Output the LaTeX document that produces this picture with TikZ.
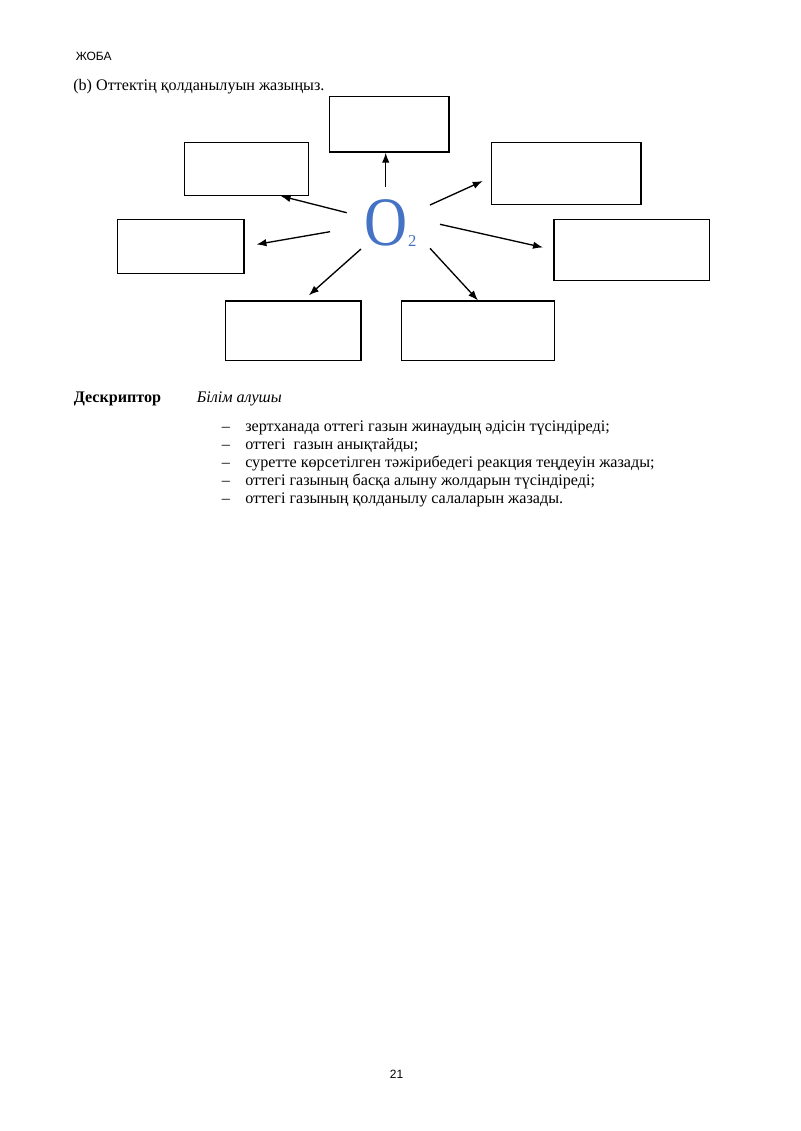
\documentclass[tikz,border=0pt]{standalone}
\usepackage{fontspec}
\setmainfont{Liberation Serif}
\newfontfamily\hdrfont{Liberation Sans}
\usepackage{graphicx}
\usepackage{xcolor}
\usepackage{tikz}
\usetikzlibrary{arrows.meta,calc}
\definecolor{oxblue}{RGB}{68,114,196}

\begin{document}
\begin{tikzpicture}[x=0.75pt,y=-0.75pt,>={Latex[length=7.5pt,width=5.6pt]},
	answerbox/.style={draw,line width=0.9pt,inner sep=0pt},
	arr/.style={->,line width=1pt},
	txt/.style={anchor=base west,inner sep=0pt,font=\fontsize{12.1}{14}\selectfont}]
	\useasboundingbox (0,0) rectangle (800,1131);

	\node[txt,font=\hdrfont\fontsize{9}{11}\selectfont] (hdr) at (75.5,61) {ЖОБА};
	\node[txt] (task) at (73,90) {(b) Оттектің қолданылуын жазыңыз.};

	% empty boxes round the formula
	\node[answerbox,minimum width=89.8pt,minimum height=41.5pt] (top) at (389.2,124.4) {};
	\node[answerbox,minimum width=93pt,minimum height=39.5pt] (ul) at (246.7,169) {};
	\node[answerbox,minimum width=112pt,minimum height=46.2pt] (ur) at (566.4,173.5) {};
	\node[answerbox,minimum width=94.7pt,minimum height=40.8pt] (l) at (180.9,246.5) {};
	\node[answerbox,minimum width=116.5pt,minimum height=45.8pt] (r) at (631.7,249.8) {};
	\node[answerbox,minimum width=101.5pt,minimum height=44.8pt] (bl) at (293.4,330.9) {};
	\node[answerbox,minimum width=114.5pt,minimum height=44.8pt] (br) at (478,330.9) {};

	% O2 in the middle
	\node[anchor=base west,inner sep=0pt,text=oxblue] (oxy) at (364.7,245) {\scalebox{0.86}[1]{\fontsize{52}{52}\selectfont O}\raisebox{-0.75pt}{\fontsize{12.5}{12.5}\selectfont 2}};

	\coordinate (sUp) at (385.7,186.7);
	\coordinate (sUl) at (346.7,212.7);
	\coordinate (sL) at (330,231.7);
	\coordinate (sBl) at (361,249);
	\coordinate (sUr) at (430,205);
	\coordinate (sR) at (440,224.3);
	\coordinate (sBr) at (430,248.3);

	\draw[arr] (sUp) -- (top.south -| sUp);
	\draw[arr] (sUl) -- ($(ul.south east)+(-28.7,0)$);
	\draw[arr,shorten >=9pt] (sL) -- (l.east);
	\draw[arr,shorten >=5.8pt] (sBl) -- ($(bl.north)+(9.7,0)$);
	\draw[arr,shorten >=6.9pt] (sUr) -- ($(ur.west)+(0,3.7)$);
	\draw[arr,shorten >=8pt] (sR) -- (r.west);
	\draw[arr] (sBr) -- (br.north);

	\node[txt,font=\fontsize{12.1}{14}\selectfont\bfseries] (desc) at (73.5,402.5) {Дескриптор};
	\node[txt,font=\fontsize{12.1}{14}\selectfont\itshape] (learner) at (196.5,402.5) {Білім алушы};

	\foreach \t [count=\i] in {зертханада оттегі газын жинаудың әдісін түсіндіреді;,
		оттегі~ газын анықтайды;,
		суретте көрсетілген тәжірибедегі реакция теңдеуін жазады;,
		оттегі газының басқа алыну жолдарын түсіндіреді;,
		оттегі газының қолданылу салаларын жазады.}{
		\node[txt] (dash\i) at (221.5,{413+18*\i}) {–};
		\node[txt] (item\i) at (245,{413+18*\i}) {\t};
	}

	\node[anchor=base,inner sep=0pt,font=\hdrfont\fontsize{9}{11}\selectfont] (pnum) at (396.5,1078.7) {21};
\end{tikzpicture}
\end{document}
